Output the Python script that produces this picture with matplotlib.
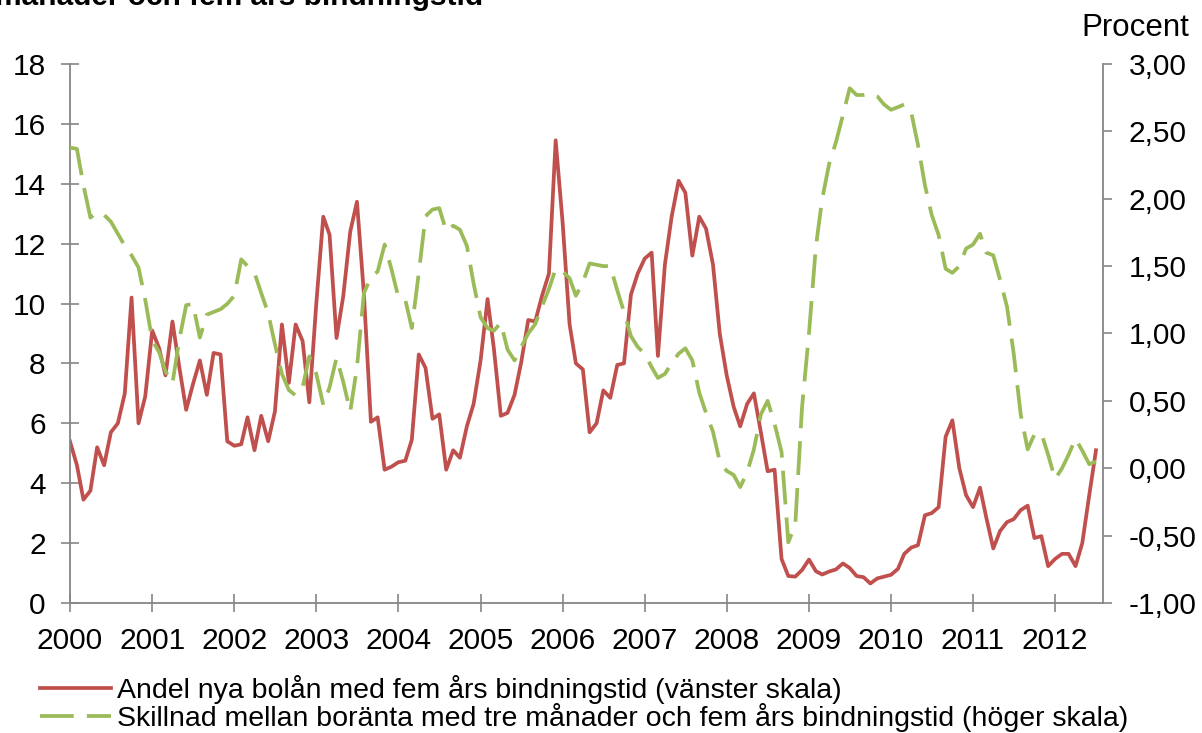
import matplotlib
matplotlib.use("Agg")
import matplotlib.pyplot as plt
import matplotlib.dates as mdates
from matplotlib.ticker import FuncFormatter, MultipleLocator
import pandas as pd
from datetime import date

plt.rcParams["font.family"] = ["Liberation Sans", "DejaVu Sans"]

# monthly data, Jan 2000 - Jul 2012
months = pd.date_range("2000-01-01", periods=151, freq="MS")

# Andel nya bolån med fem års bindningstid, procent (vänster skala)
andel_fem_ar = [
    5.4, 4.6, 3.45, 3.75, 5.2, 4.6, 5.7, 6.0, 7.0, 10.2, 6.0, 6.9,
    9.1, 8.5, 7.6, 9.4, 7.9, 6.45, 7.3, 8.1, 6.95, 8.35, 8.3, 5.4,
    5.25, 5.3, 6.2, 5.1, 6.25, 5.4, 6.4, 9.3, 7.35, 9.3, 8.75, 6.7,
    10.0, 12.9, 12.3, 8.85, 10.25, 12.4, 13.4, 10.3, 6.05, 6.2, 4.45, 4.55,
    4.7, 4.75, 5.45, 8.3, 7.85, 6.15, 6.3, 4.45, 5.1, 4.85, 5.9, 6.65,
    8.1, 10.15, 8.5, 6.25, 6.35, 6.95, 8.05, 9.45, 9.4, 10.25, 11.0, 15.45,
    12.7, 9.3, 8.0, 7.8, 5.7, 6.0, 7.1, 6.85, 7.95, 8.0, 10.3, 11.0,
    11.5, 11.7, 8.25, 11.3, 12.9, 14.1, 13.7, 11.6, 12.9, 12.5, 11.3, 9.0,
    7.6, 6.55, 5.9, 6.65, 7.0, 5.7, 4.4, 4.45, 1.47, 0.9, 0.88, 1.1,
    1.45, 1.06, 0.95, 1.05, 1.12, 1.32, 1.17, 0.9, 0.86, 0.65, 0.82, 0.88,
    0.94, 1.14, 1.64, 1.85, 1.93, 2.93, 3.0, 3.2, 5.55, 6.1, 4.5, 3.6,
    3.2, 3.85, 2.85, 1.82, 2.4, 2.7, 2.8, 3.1, 3.25, 2.17, 2.23, 1.23,
    1.47, 1.64, 1.64, 1.23, 2.0, 3.6, 5.1,
]

# Skillnad mellan boränta fem år och tre månader, procentenheter (höger skala)
skillnad = [
    2.38, 2.37, 2.1, 1.86, 1.9, 1.88, 1.83, 1.74, 1.65, 1.58, 1.49, 1.25,
    0.95, 0.86, 0.72, 0.63, 0.95, 1.21, 1.22, 0.97, 1.14, 1.16, 1.18, 1.22,
    1.28, 1.55, 1.5, 1.45, 1.3, 1.15, 0.92, 0.7, 0.58, 0.54, 0.6, 0.83,
    0.7, 0.47, 0.6, 0.82, 0.64, 0.42, 0.75, 1.3, 1.42, 1.46, 1.66, 1.48,
    1.27, 1.25, 1.04, 1.45, 1.87, 1.92, 1.93, 1.76, 1.8, 1.77, 1.65, 1.37,
    1.12, 1.04, 1.02, 1.08, 0.88, 0.8, 0.9, 1.0, 1.07, 1.2, 1.33, 1.48,
    1.46, 1.41, 1.28, 1.38, 1.52, 1.51, 1.5, 1.5, 1.32, 1.16, 0.98, 0.9,
    0.85, 0.75, 0.67, 0.7, 0.78, 0.85, 0.89, 0.8, 0.56, 0.41, 0.27, 0.05,
    -0.02, -0.05, -0.14, -0.03, 0.14, 0.4, 0.5, 0.33, 0.12, -0.55, -0.42, 0.45,
    1.0, 1.65, 2.0, 2.26, 2.42, 2.62, 2.82, 2.77, 2.77, 2.78, 2.76, 2.7,
    2.66, 2.68, 2.7, 2.64, 2.4, 2.1, 1.88, 1.73, 1.48, 1.45, 1.5, 1.63,
    1.66, 1.74, 1.6, 1.58, 1.4, 1.2, 0.85, 0.4, 0.14, 0.25, 0.26, 0.1,
    -0.08, 0.0, 0.1, 0.22, 0.13, 0.03, 0.05,
]

label_red = "Andel nya bolån med fem års bindningstid (vänster skala)"
label_green = "Skillnad mellan boränta med tre månader och fem års bindningstid (höger skala)"

red = "#C0504D"
green = "#9BBB59"
gray = "#868686"
fs_tick = 21.5

fig = plt.figure(figsize=(12.02, 7.33), dpi=100)
ax = fig.add_axes([0.0582, 0.1774, 0.8594, 0.7353])
ax2 = ax.twinx()

l1, = ax.plot(months, andel_fem_ar, color=red, linewidth=2.7, label=label_red)
l2, = ax2.plot(months, skillnad, color=green, linewidth=2.7, label=label_green)
l2.set_dashes([9, 3.5])

ax.set_xlim(date(2000, 1, 1), date(2012, 8, 1))
ax.set_ylim(0, 18)
ax2.set_ylim(-1, 3)
ax.yaxis.set_major_locator(MultipleLocator(2))
ax2.yaxis.set_major_locator(MultipleLocator(0.5))
ax2.yaxis.set_major_formatter(FuncFormatter(lambda v, p: f"{v:.2f}".replace(".", ",")))
ax.xaxis.set_major_locator(mdates.YearLocator())
ax.xaxis.set_major_formatter(mdates.DateFormatter("%Y"))

for s in ["top", "right"]:
    ax.spines[s].set_visible(False)
for s in ["top", "left", "bottom"]:
    ax2.spines[s].set_visible(False)
for sp in [ax.spines["left"], ax.spines["bottom"], ax2.spines["right"]]:
    sp.set_color(gray)
    sp.set_linewidth(1.3)

ax.tick_params(axis="y", direction="inout", length=13, width=1.2, color=gray,
               labelsize=fs_tick, pad=11)
ax.tick_params(axis="x", direction="inout", length=13, width=1.2, color=gray,
               labelsize=fs_tick, pad=11)
ax2.tick_params(axis="y", direction="out", length=6.5, width=1.2, color=gray,
                labelsize=fs_tick, pad=12)

fig.text(0.989, 0.962, "Procent", fontsize=22.5, ha="right", va="center")
fig.text(-0.004, 0.993, "månader och fem års bindningstid", fontsize=21.5,
         fontweight="bold", ha="left", va="baseline")

fig.legend(handles=[l1, l2], loc="upper left", bbox_to_anchor=(0.033, 0.079),
           frameon=False, fontsize=20.5, handlelength=2.5, handletextpad=0.2,
           labelspacing=-0.05, borderpad=0, borderaxespad=0)

fig.savefig("out.png", dpi=100)
